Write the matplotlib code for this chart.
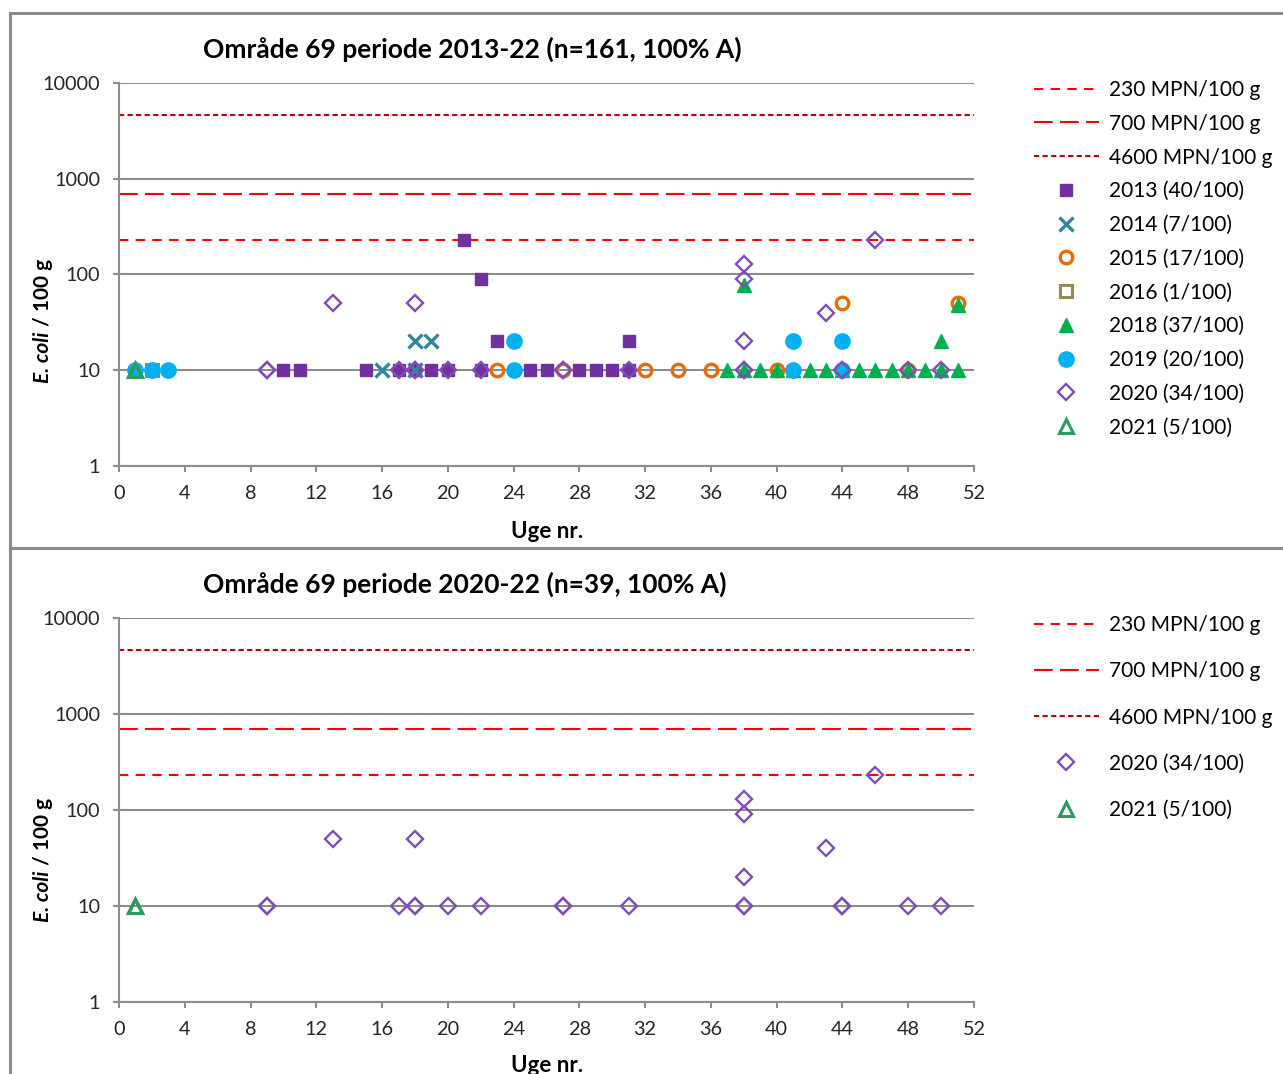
import matplotlib.pyplot as plt
from matplotlib.lines import Line2D

plt.rcParams['font.family'] = ['Lato', 'DejaVu Sans']

# grænseværdier
limits = [230, 700, 4600]
limit_labels = ['230 MPN/100 g', '700 MPN/100 g', '4600 MPN/100 g']

# ugenumre og E. coli pr. år
weeks_2013 = [10, 11, 15, 17, 18, 19, 20, 21, 22, 22, 23, 25, 26, 28, 29, 30, 31, 31]
ecoli_2013 = [10, 10, 10, 10, 10, 10, 10, 230, 90, 10, 20, 10, 10, 10, 10, 10, 20, 10]
weeks_2014 = [16, 18, 18, 19]
ecoli_2014 = [10, 10, 20, 20]
weeks_2015 = [23, 27, 32, 34, 36, 40, 44, 48, 51]
ecoli_2015 = [10, 10, 10, 10, 10, 10, 50, 10, 50]
weeks_2016 = [2]
ecoli_2016 = [10]
weeks_2018 = [37, 38, 38, 39, 40, 41, 42, 43, 44, 45, 46, 47, 48, 49, 50, 50, 51, 51]
ecoli_2018 = [10, 10, 78, 10, 10, 10, 10, 10, 10, 10, 10, 10, 10, 10, 10, 20, 10, 48]
weeks_2019 = [1, 2, 3, 24, 24, 41, 41, 44, 44]
ecoli_2019 = [10, 10, 10, 20, 10, 20, 10, 20, 10]
weeks_2020 = [9, 9, 13, 17, 18, 18, 18, 20, 22, 27, 27, 31, 38, 38, 38, 38, 38, 43, 44, 44, 46, 48, 50]
ecoli_2020 = [10, 10, 50, 10, 50, 10, 10, 10, 10, 10, 10, 10, 130, 90, 20, 10, 10, 40, 10, 10, 230, 10, 10]
weeks_2021 = [1, 1, 1]
ecoli_2021 = [10, 10, 10]

labels_top = ['2013 (40/100)', '2014 (7/100)', '2015 (17/100)', '2016 (1/100)',
              '2018 (37/100)', '2019 (20/100)', '2020 (34/100)', '2021 (5/100)']
labels_bottom = ['2020 (34/100)', '2021 (5/100)']

W, H = 1283, 1074
GRAY = '#8C8C8C'


def fy(py):
    return 1 - py / H


# stil for hver serie
styles = {
    '2013': dict(marker='s', ms=9, mfc='#7030A0', mec='#7030A0'),
    '2014': dict(marker='x', ms=9.5, mew=2.4, color='#31859C'),
    '2015': dict(marker='o', ms=9, mfc='none', mec='#E46C0A', mew=2.4),
    '2016': dict(marker='s', ms=8.5, mfc='none', mec='#948A54', mew=2.2),
    '2018': dict(marker='^', ms=10.5, mfc='#00B050', mec='#00B050'),
    '2019': dict(marker='o', ms=11, mfc='#00B0F0', mec='#00B0F0'),
    '2020': dict(marker='D', ms=8.2, mfc='none', mec='#7F4FB3', mew=1.7),
    '2021': dict(marker='^', ms=10.5, mfc='none', mec='#2E9960', mew=2.2),
}
limit_styles = [dict(color='#FF0000', ls=(0, (4.5, 3.5))),
                dict(color='#FF0000', ls=(0, (9, 3.5))),
                dict(color='#C00000', ls=(0, (2.5, 1.6)))]


def panel(ax, series, labels, title, title_x, title_y, leg_top, leg_spacing):
    handles = []
    for v, st in zip(limits, limit_styles):
        h = ax.axhline(v, color=st['color'], linestyle=st['ls'], lw=1.5, zorder=2)
        handles.append(h)
    for (year, w, e) in series:
        h, = ax.plot(w, e, linestyle='none', zorder=3, clip_on=False, **styles[year])
        handles.append(h)

    ax.set_yscale('log')
    ax.set_ylim(1, 10000)
    ax.set_xlim(0, 52)
    ax.set_xticks(range(0, 53, 4))
    ax.set_yticks([1, 10, 100, 1000, 10000])
    ax.set_yticklabels(['1', '10', '100', '1000', '10000'])
    ax.minorticks_off()
    ax.grid(axis='y', color=GRAY, lw=1.5)
    ax.set_axisbelow(True)
    for s in ['top', 'right']:
        ax.spines[s].set_visible(False)
    for s in ['left', 'bottom']:
        ax.spines[s].set_color(GRAY)
        ax.spines[s].set_linewidth(1.5)
    ax.tick_params(axis='y', length=4.5, width=1.5, color=GRAY, pad=9, labelsize=14.3, labelcolor='#262626')
    ax.tick_params(axis='x', length=4.5, width=1.5, color=GRAY, pad=9.5, labelsize=14.3, labelcolor='#262626')

    fig.text(title_x / W, fy(title_y), title, ha='center', va='center', fontsize=19, fontweight='bold')

    ax.legend(handles, limit_labels + labels, loc='upper left',
              bbox_to_anchor=(1034 / W, fy(leg_top)), bbox_transform=fig.transFigure,
              frameon=False, fontsize=15, handlelength=3.1, handletextpad=0.48,
              labelspacing=leg_spacing, borderaxespad=0, borderpad=0)


fig = plt.figure(figsize=(W / 100, H / 100), dpi=100)

ax1 = fig.add_axes([119 / W, fy(466), 855 / W, 383 / H])
ax2 = fig.add_axes([119 / W, fy(1002), 855 / W, 384 / H])

top_series = [('2013', weeks_2013, ecoli_2013), ('2014', weeks_2014, ecoli_2014),
              ('2015', weeks_2015, ecoli_2015), ('2016', weeks_2016, ecoli_2016),
              ('2018', weeks_2018, ecoli_2018), ('2019', weeks_2019, ecoli_2019),
              ('2020', weeks_2020, ecoli_2020), ('2021', weeks_2021, ecoli_2021)]
bottom_series = [('2020', weeks_2020, ecoli_2020), ('2021', weeks_2021, ecoli_2021)]

panel(ax1, top_series, labels_top, 'Område 69 periode 2013-22 (n=161, 100% A)', 472, 49, 80, 0.66)
panel(ax2, bottom_series, labels_bottom, 'Område 69 periode 2020-22 (n=39, 100% A)', 465, 584, 615, 1.26)

# x-akse titler
fig.text(547 / W, fy(531), 'Uge nr.', ha='center', va='center', fontsize=16, fontweight='bold')
fig.text(547 / W, fy(1066), 'Uge nr.', ha='center', va='center', fontsize=16, fontweight='bold')

# y-akse titler med kursiv E. coli
fig.canvas.draw()
for bottom_px in [383, 922]:
    t1 = fig.text(43 / W, fy(bottom_px), 'E. coli', rotation=90, ha='center', va='bottom',
                  fontsize=15, fontweight='bold', style='italic')
    bb = t1.get_window_extent(renderer=fig.canvas.get_renderer())
    fig.text(43 / W, (bb.y1 + 6) / H, '/ 100 g', rotation=90, ha='center', va='bottom',
             fontsize=15, fontweight='bold')

# ramme rundt om diagrammerne
for xs, ys in [([10, 10], [13, 1074]), ([10, 1283], [13, 13]), ([10, 1283], [548, 548])]:
    fig.add_artist(Line2D([x / W for x in xs], [fy(y) for y in ys], color=GRAY, lw=2.2,
                          transform=fig.transFigure))

plt.savefig('out.png', dpi=100)
